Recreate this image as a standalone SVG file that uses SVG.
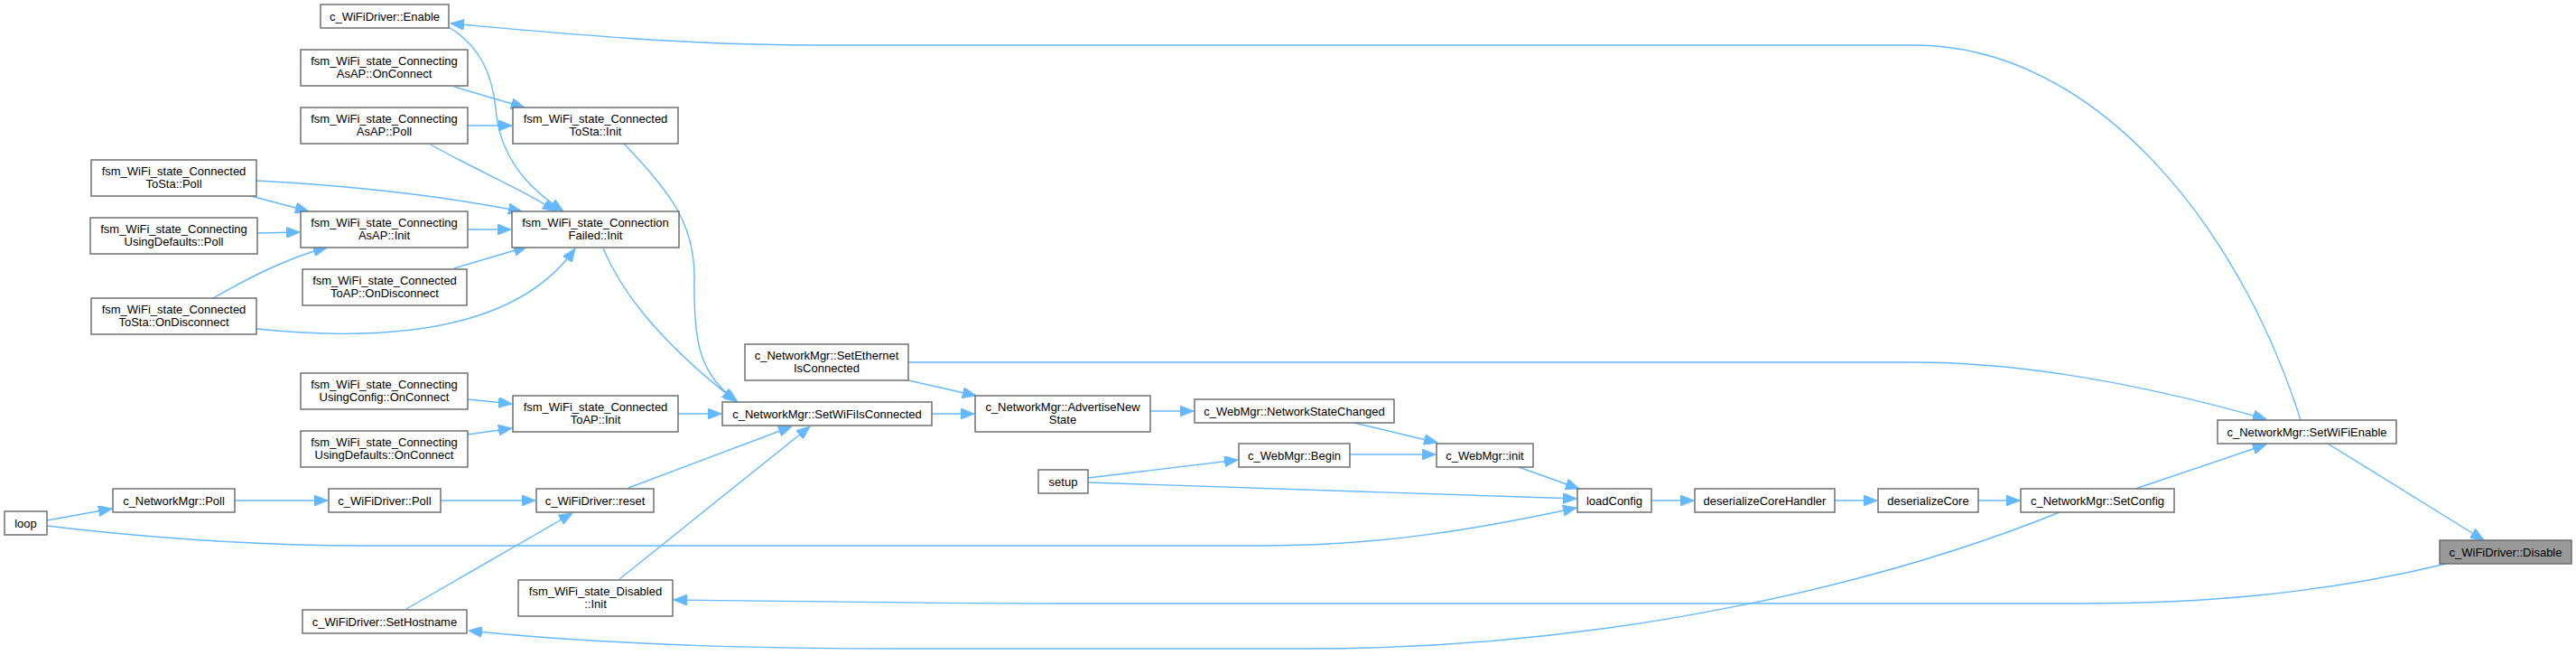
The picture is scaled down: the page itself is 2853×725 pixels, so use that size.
<svg xmlns="http://www.w3.org/2000/svg" width="2853" height="725" viewBox="0 0 2853 725">
<style>
.node rect{fill:#ffffff;stroke:#666666;stroke-width:1.4}
.node.hl rect{fill:#999999}
.node text{font-family:"Liberation Sans",Arial,Helvetica,sans-serif;font-size:13px;fill:#000000;text-anchor:middle}
.edges path{fill:none;stroke:#63b8ff;stroke-width:1.4;marker-end:url(#arr)}
</style>
<defs>
<marker id="arr" viewBox="0 0 15 12" refX="15" refY="6" markerWidth="15" markerHeight="12" markerUnits="userSpaceOnUse" orient="auto">
<path d="M0,0 L15,6 L0,12 z" fill="#63b8ff" stroke="#63b8ff" stroke-width="1"/>
</marker>
</defs>
<rect x="0" y="0" width="2853" height="725" fill="#ffffff"/>
<g class="edges" id="edges">
<path d="M52,576 L124,563"/>
<path d="M52,582 C150,594 280,604 400,604 L1400,604 C1530,604 1640,585 1746,562"/>
<path d="M260,554 L363,554"/>
<path d="M488,554 L593,554"/>
<path d="M450,674 L634,568"/>
<path d="M696,540 L877,472"/>
<path d="M686,641 L897,472"/>
<path d="M751,458 L799,458"/>
<path d="M518,442 L567,447"/>
<path d="M518,481 L567,474"/>
<path d="M668,275 C685,315 720,370 815,444"/>
<path d="M691,159 C745,215 770,250 769,310 C768,380 775,415 817,445"/>
<path d="M284,200 C380,205 480,215 578,234"/>
<path d="M278,217 L342,234"/>
<path d="M285,258 L332,257"/>
<path d="M236,330 C280,305 320,285 362,274"/>
<path d="M284,364 C420,378 570,370 637,275"/>
<path d="M503,297 L584,273"/>
<path d="M518,254 L566,254"/>
<path d="M477,160 C530,190 580,210 616,234"/>
<path d="M518,139 L567,139"/>
<path d="M503,96 L581,119"/>
<path d="M497,30 C530,50 545,80 549,120 C553,170 580,205 624,234"/>
<path d="M2548,465 C2480,250 2320,50 2120,50 L906,50 C750,50 600,35 499,26"/>
<path d="M1006,401 L2120,401 C2250,401 2390,430 2510,464"/>
<path d="M1006,421 L1081,438"/>
<path d="M1032,458 L1079,458"/>
<path d="M1274,455 L1322,455"/>
<path d="M1496,467 L1592,490"/>
<path d="M1495,503 L1590,503"/>
<path d="M1205,529 L1371,509"/>
<path d="M1205,534 L1746,552"/>
<path d="M1682,517 L1749,541"/>
<path d="M1829,554 L1876,554"/>
<path d="M2032,554 L2079,554"/>
<path d="M2191,554 L2237,554"/>
<path d="M2365,541 L2510,492"/>
<path d="M2578,491 L2751,598"/>
<path d="M2709,624 C2570,658 2435,668 2300,668 L1200,668 C1000,668 850,665 746,664"/>
<path d="M2281,567 C2100,640 1800,718 1450,718 L1000,718 C800,718 650,712 519,698"/>
</g>
<g class="node" id="n_enable"><rect x="355" y="5" width="142" height="26"/><text x="426" y="22.5">c_WiFiDriver::Enable</text></g>
<g class="node" id="n_asap_onconnect"><rect x="333" y="55" width="185" height="40"/><text x="425.5" y="71.5">fsm_WiFi_state_Connecting</text><text x="425.5" y="86">AsAP::OnConnect</text></g>
<g class="node" id="n_asap_poll"><rect x="333" y="119" width="185" height="40"/><text x="425.5" y="135.5">fsm_WiFi_state_Connecting</text><text x="425.5" y="150">AsAP::Poll</text></g>
<g class="node" id="n_tosta_init"><rect x="568" y="119" width="183" height="40"/><text x="659.5" y="135.5">fsm_WiFi_state_Connected</text><text x="659.5" y="150">ToSta::Init</text></g>
<g class="node" id="n_tosta_poll"><rect x="101" y="177" width="183" height="40"/><text x="192.5" y="193.5">fsm_WiFi_state_Connected</text><text x="192.5" y="208">ToSta::Poll</text></g>
<g class="node" id="n_usingdefaults_poll"><rect x="100" y="241" width="185" height="40"/><text x="192.5" y="257.5">fsm_WiFi_state_Connecting</text><text x="192.5" y="272">UsingDefaults::Poll</text></g>
<g class="node" id="n_asap_init"><rect x="333" y="234" width="185" height="40"/><text x="425.5" y="250.5">fsm_WiFi_state_Connecting</text><text x="425.5" y="265">AsAP::Init</text></g>
<g class="node" id="n_connfailed_init"><rect x="567" y="234" width="185" height="40"/><text x="659.5" y="250.5">fsm_WiFi_state_Connection</text><text x="659.5" y="265">Failed::Init</text></g>
<g class="node" id="n_toap_ondisconnect"><rect x="335" y="298" width="182" height="40"/><text x="426" y="314.5">fsm_WiFi_state_Connected</text><text x="426" y="329">ToAP::OnDisconnect</text></g>
<g class="node" id="n_tosta_ondisconnect"><rect x="101" y="330" width="183" height="40"/><text x="192.5" y="346.5">fsm_WiFi_state_Connected</text><text x="192.5" y="361">ToSta::OnDisconnect</text></g>
<g class="node" id="n_usingconfig_onconnect"><rect x="333" y="413" width="185" height="40"/><text x="425.5" y="429.5">fsm_WiFi_state_Connecting</text><text x="425.5" y="444">UsingConfig::OnConnect</text></g>
<g class="node" id="n_usingdefaults_onconnect"><rect x="333" y="477" width="185" height="40"/><text x="425.5" y="493.5">fsm_WiFi_state_Connecting</text><text x="425.5" y="508">UsingDefaults::OnConnect</text></g>
<g class="node" id="n_toap_init"><rect x="568" y="438" width="183" height="40"/><text x="659.5" y="454.5">fsm_WiFi_state_Connected</text><text x="659.5" y="469">ToAP::Init</text></g>
<g class="node" id="n_loop"><rect x="5" y="566" width="47" height="26"/><text x="28.5" y="583.5">loop</text></g>
<g class="node" id="n_nm_poll"><rect x="125" y="541" width="135" height="26"/><text x="192.5" y="558.5">c_NetworkMgr::Poll</text></g>
<g class="node" id="n_wd_poll"><rect x="364" y="541" width="124" height="26"/><text x="426" y="558.5">c_WiFiDriver::Poll</text></g>
<g class="node" id="n_reset"><rect x="594" y="541" width="130" height="26"/><text x="659" y="558.5">c_WiFiDriver::reset</text></g>
<g class="node" id="n_disabled_init"><rect x="574" y="642" width="171" height="40"/><text x="659.5" y="658.5">fsm_WiFi_state_Disabled</text><text x="659.5" y="673">::Init</text></g>
<g class="node" id="n_sethostname"><rect x="335" y="675" width="182" height="26"/><text x="426" y="692.5">c_WiFiDriver::SetHostname</text></g>
<g class="node" id="n_setethernet"><rect x="825" y="381" width="181" height="40"/><text x="915.5" y="397.5">c_NetworkMgr::SetEthernet</text><text x="915.5" y="412">IsConnected</text></g>
<g class="node" id="n_setwifiisconnected"><rect x="800" y="445" width="232" height="26"/><text x="916" y="462.5">c_NetworkMgr::SetWiFiIsConnected</text></g>
<g class="node" id="n_advertise"><rect x="1080" y="438" width="194" height="40"/><text x="1177" y="454.5">c_NetworkMgr::AdvertiseNew</text><text x="1177" y="469">State</text></g>
<g class="node" id="n_networkstatechanged"><rect x="1323" y="442" width="221" height="26"/><text x="1433.5" y="459.5">c_WebMgr::NetworkStateChanged</text></g>
<g class="node" id="n_begin"><rect x="1372" y="491" width="123" height="26"/><text x="1433.5" y="508.5">c_WebMgr::Begin</text></g>
<g class="node" id="n_setup"><rect x="1150" y="520" width="55" height="26"/><text x="1177.5" y="537.5">setup</text></g>
<g class="node" id="n_init"><rect x="1591" y="491" width="107" height="26"/><text x="1644.5" y="508.5">c_WebMgr::init</text></g>
<g class="node" id="n_loadconfig"><rect x="1747" y="541" width="82" height="26"/><text x="1788" y="558.5">loadConfig</text></g>
<g class="node" id="n_dch"><rect x="1877" y="541" width="155" height="26"/><text x="1954.5" y="558.5">deserializeCoreHandler</text></g>
<g class="node" id="n_dc"><rect x="2080" y="541" width="111" height="26"/><text x="2135.5" y="558.5">deserializeCore</text></g>
<g class="node" id="n_setconfig"><rect x="2238" y="541" width="170" height="26"/><text x="2323" y="558.5">c_NetworkMgr::SetConfig</text></g>
<g class="node" id="n_setwifienable"><rect x="2456" y="465" width="198" height="26"/><text x="2555" y="482.5">c_NetworkMgr::SetWiFiEnable</text></g>
<g class="node hl" id="n_disable"><rect x="2702" y="598" width="146" height="26"/><text x="2775" y="615.5">c_WiFiDriver::Disable</text></g>
</svg>
